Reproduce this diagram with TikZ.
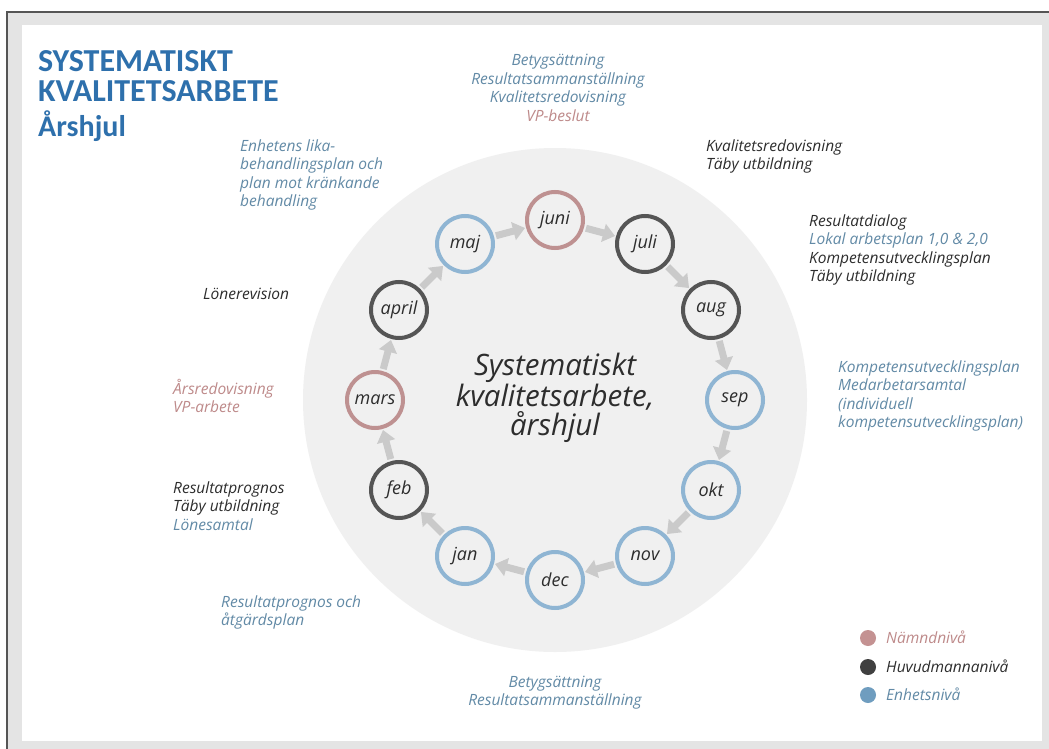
\documentclass[tikz,border=0pt]{standalone}
\usepackage{fontspec}
\setmainfont{Open Sans}
\newfontfamily\hand{Open Sans}
\newfontfamily\ttlfont{Carlito}
\usetikzlibrary{arrows.meta}

\definecolor{ttl}{RGB}{46,112,172}
\definecolor{lblue}{RGB}{98,138,166}
\definecolor{lpink}{RGB}{190,138,138}
\definecolor{ldark}{RGB}{45,45,45}
\definecolor{cblue}{RGB}{143,181,211}
\definecolor{cpink}{RGB}{190,145,145}
\definecolor{cdark}{RGB}{85,85,85}
\definecolor{bgc}{RGB}{240,240,240}
\definecolor{arr}{RGB}{202,202,202}
\definecolor{band}{RGB}{228,228,228}
\definecolor{frameline}{RGB}{85,85,85}
\definecolor{dotpink}{RGB}{196,146,146}
\definecolor{dotdark}{RGB}{64,64,64}
\definecolor{dotblue}{RGB}{111,157,191}

\begin{document}
\begin{tikzpicture}[x=1pt,y=-1pt,
  month/.style={circle, draw, line width=4pt, minimum size=56pt, inner sep=0pt,
    font=\hand\itshape\fontsize{18}{20}\selectfont, text=ldark},
  mblue/.style={month, draw=cblue},
  mpink/.style={month, draw=cpink},
  mdark/.style={month, draw=cdark},
  flow/.style={draw=arr, line width=7pt, -{Triangle[width=18pt,length=12pt]},
    shorten <=2pt, shorten >=1pt},
  lbl/.style={font=\hand\itshape\fontsize{15.5}{18.5}\selectfont, inner sep=0pt,
    text=lblue},
  ttlstyle/.style={font=\ttlfont\bfseries\fontsize{32}{34}\selectfont, text=ttl,
    inner sep=0pt, anchor=base west},
  dot/.style={circle, minimum size=16pt, inner sep=0pt}
]
\useasboundingbox (0,0) rectangle (1049,749);
\fill[white] (0,0) rectangle (1049,749);
\fill[band] (7,12) rectangle (1049,749);
\fill[white] (22,25) rectangle (1042,741);
\draw[frameline, line width=2pt] (7,749) -- (7,12) -- (1049,12);

% title
\node[ttlstyle] (t1) at (38,72) {SYSTEMATISKT};
\node[ttlstyle] (t2) at (38,102) {KVALITETSARBETE};
\node[ttlstyle, font=\ttlfont\bfseries\fontsize{30}{31}\selectfont] (t3) at (38,136) {Årshjul};

% wheel background
\fill[bgc] (555,400) circle[radius=252pt];

% months
\node[mpink] (juni)  at (555,220) {juni};
\node[mdark] (juli)  at (645,244) {juli};
\node[mdark] (aug)   at (711,310) {aug};
\node[mblue] (sep)   at (735,400) {sep};
\node[mblue] (okt)   at (711,490) {okt};
\node[mblue] (nov)   at (645,556) {nov};
\node[mblue] (dec)   at (555,580) {dec};
\node[mblue] (jan)   at (465,556) {jan};
\node[mdark] (feb)   at (399,490) {feb};
\node[mpink] (mars)  at (375,400) {mars};
\node[mdark] (april) at (399,310) {april};
\node[mblue] (maj)   at (465,244) {maj};

\draw[flow] (maj) -- (juni);
\draw[flow] (juni) -- (juli);
\draw[flow] (juli) -- (aug);
\draw[flow] (aug) -- (sep);
\draw[flow] (sep) -- (okt);
\draw[flow] (okt) -- (nov);
\draw[flow] (nov) -- (dec);
\draw[flow] (dec) -- (jan);
\draw[flow] (jan) -- (feb);
\draw[flow] (feb) -- (mars);
\draw[flow] (mars) -- (april);
\draw[flow] (april) -- (maj);

% center text
\node[align=center, font=\hand\itshape\fontsize{29.5}{29}\selectfont, text=ldark, inner sep=0pt]
  (center) at (555,398) {Systematiskt\\kvalitetsarbete,\\årshjul};

% labels (anchor base = baseline of last line)
\node[lbl, align=center, anchor=base] (ljuni) at (558,121.5)
  {Betygsättning\\Resultatsammanställning\\Kvalitetsredovisning\\\textcolor{lpink}{VP-beslut}};
\node[lbl, align=left, anchor=base west, text=ldark] (ljuli) at (706,169.5)
  {Kvalitetsredovisning\\Täby utbildning};
\node[lbl, align=left, anchor=base west, text=ldark] (laug) at (809,281.5)
  {Resultatdialog\\\textcolor{lblue}{Lokal arbetsplan 1,0 \& 2,0}\\Kompetensutvecklingsplan\\Täby utbildning};
\node[lbl, align=left, anchor=base west] (lsep) at (838,427.5)
  {Kompetensutvecklingsplan\\Medarbetarsamtal\\(individuell\\kompetensutvecklingsplan)};
\node[lbl, align=left, anchor=base west] (lmaj) at (240,206.5)
  {Enhetens lika-\\behandlingsplan och\\plan mot kränkande\\behandling};
\node[lbl, anchor=base west, text=ldark] (lapril) at (203,299) {Lönerevision};
\node[lbl, align=left, anchor=base west, text=lpink] (lmars) at (173,412.5)
  {Årsredovisning\\VP-arbete};
\node[lbl, align=left, anchor=base west, text=ldark] (lfeb) at (173,530)
  {Resultatprognos\\Täby utbildning\\\textcolor{lblue}{Lönesamtal}};
\node[lbl, align=left, anchor=base west] (ljan) at (221,625.5)
  {Resultatprognos och\\åtgärdsplan};
\node[lbl, align=center, anchor=base] (ldec) at (555,705.5)
  {Betygsättning\\Resultatsammanställning};

% legend
\node[dot, fill=dotpink] (d1) at (868,638) {};
\node[dot, fill=dotdark] (d2) at (868,667) {};
\node[dot, fill=dotblue] (d3) at (868,695) {};
\node[lbl, anchor=base west, text=lpink] (n1) at (886,643) {Nämndnivå};
\node[lbl, anchor=base west, text=ldark] (n2) at (886,672) {Huvudmannanivå};
\node[lbl, anchor=base west, text=lblue] (n3) at (886,700) {Enhetsnivå};
\end{tikzpicture}
\end{document}
